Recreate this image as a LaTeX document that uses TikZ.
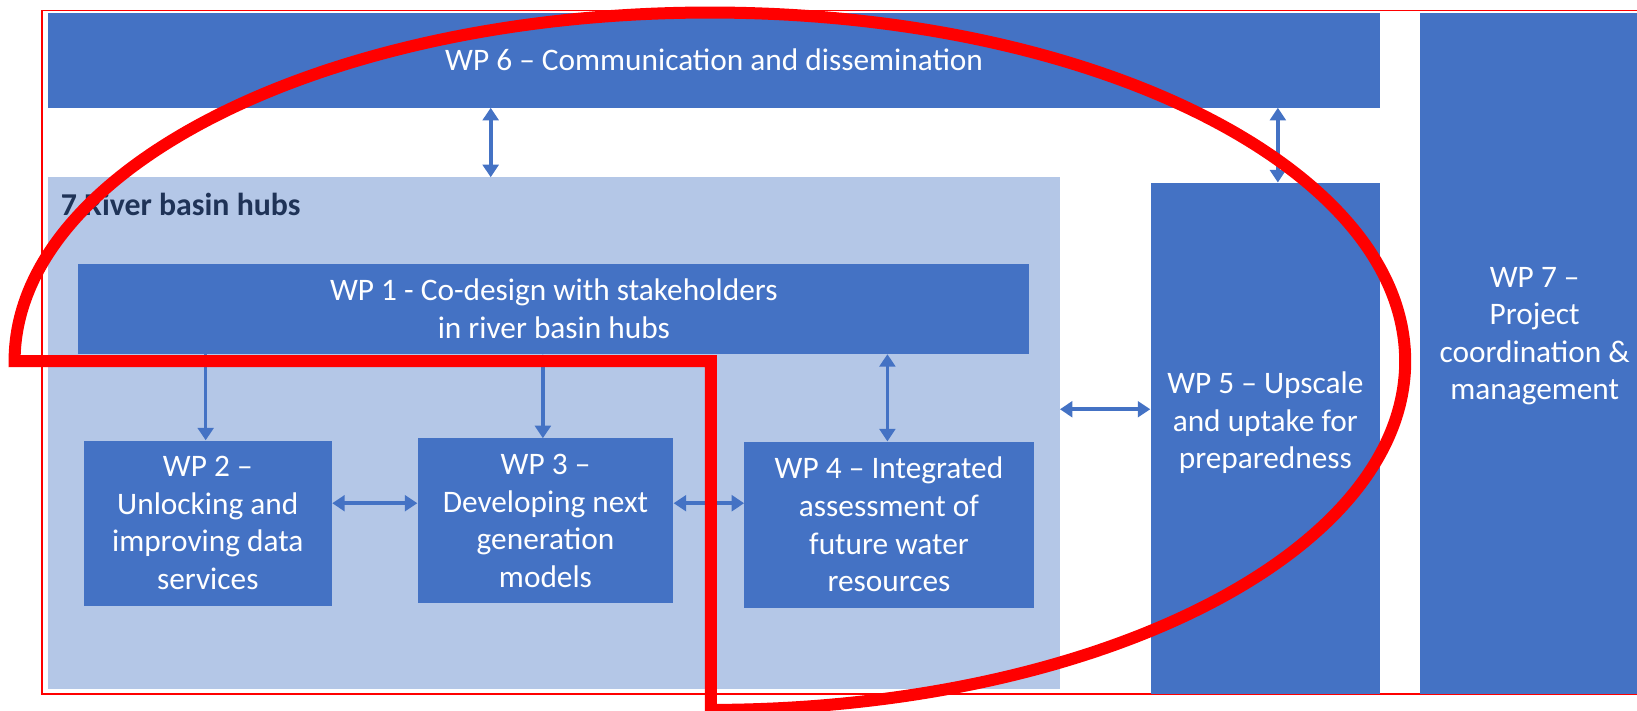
\documentclass[tikz,border=0pt]{standalone}
\usepackage{fontspec}
\setmainfont{Carlito}
\usetikzlibrary{arrows.meta}
\definecolor{wpblue}{HTML}{4472C4}
\definecolor{hubblue}{HTML}{B4C7E7}
\definecolor{hubtext}{HTML}{1F3357}
\definecolor{annred}{HTML}{FF0000}
\begin{document}
\begin{tikzpicture}[x=1pt,y=1pt,
  wpbox/.style={fill=wpblue, draw=none, inner sep=0pt, text=white, align=center,
    font=\fontsize{30}{36}\selectfont},
  wptext/.style={inner sep=0pt, text=white, align=center, font=\fontsize{30}{36}\selectfont},
  tipb/.tip={Triangle[length=12pt,width=15pt]},
  link/.style={draw=wpblue, line width=3.5pt, tipb-tipb},
  onelink/.style={draw=wpblue, line width=3.5pt, -tipb}]
\useasboundingbox (0,0) rectangle (1568,681);
\clip (0,0) rectangle (1568,681);
% thin red frame
\draw[annred, line width=1.5pt] (1600,16) -- (40,16) -- (40,671) -- (1600,671);
% boxes
\node[wpbox, minimum width=1276pt, minimum height=91pt] (wp6) at (684,623.5) {WP 6 -- Communication and dissemination};
\node[wpbox, minimum width=240pt, minimum height=653pt] (wp7) at (1480,342.5) {};
\node[wptext] (wp7t) at (1470,359) {WP 7 --\\Project\\coordination \&\\management};
\node[fill=hubblue, draw=none, inner sep=0pt, minimum width=969pt, minimum height=490pt] (hub) at (530.5,266) {};
\node[anchor=west, inner sep=0pt, text=hubtext, font=\bfseries\fontsize{30.5}{36}\selectfont] (hublabel) at (58,485) {7 River basin hubs};
\node[wpbox, minimum width=911pt, minimum height=86pt] (wp1) at (530.5,385) {WP 1 - Co-design with stakeholders\\in river basin hubs};
\node[wpbox, minimum width=238pt, minimum height=158pt] (wp2) at (199,180) {WP 2 --\\Unlocking and\\improving data\\services};
\node[wpbox, minimum width=245pt, minimum height=158pt] (wp3) at (522.5,182) {WP 3 --\\Developing next\\generation\\models};
\node[wpbox, minimum width=277pt, minimum height=159pt] (wp4) at (851.5,178.5) {WP 4 -- Integrated\\assessment of\\future water\\resources};
\node[wpbox, minimum width=220pt, minimum height=490pt] (wp5) at (1212,261) {};
\node[wptext] (wp5t) at (1212,276) {WP 5 -- Upscale\\and uptake for\\preparedness};
% connectors
\coordinate (xa) at (470,0);
\coordinate (xb) at (1224,0);
\coordinate (xc) at (197,0);
\coordinate (xd) at (520,0);
\coordinate (xe) at (850,0);
\coordinate (ya) at (0,199);
\coordinate (yb) at (0,289);
\draw[link] (wp6.south -| xa) -- (hub.north -| xa);
\draw[link] (wp6.south -| xb) -- (wp5.north -| xb);
\draw[onelink] (wp1.south -| xc) -- (wp2.north -| xc);
\draw[link] (wp1.south -| xd) -- (wp3.north -| xd);
\draw[link] (wp1.south -| xe) -- (wp4.north -| xe);
\draw[link] (wp2.east |- ya) -- (wp3.west |- ya);
\draw[link] (wp3.east |- ya) -- (wp4.west |- ya);
\draw[link] (hub.east |- yb) -- (wp5.west |- yb);
% red annotation
\draw[annred, line width=11.5pt, line join=miter]
  (681,335) -- (681,1)
  arc[start angle=-89.91, end angle=180, x radius=666, y radius=334] -- cycle;
\end{tikzpicture}
\end{document}
